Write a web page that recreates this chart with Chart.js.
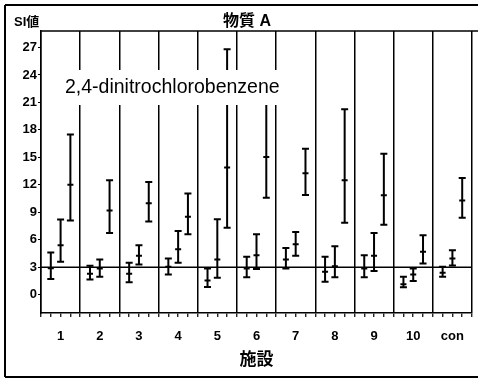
<!DOCTYPE html>
<html>
<head>
<meta charset="utf-8">
<script src="https://cdn.jsdelivr.net/npm/chart.js@4"></script>
<style>
  html, body { margin: 0; padding: 0; overflow: hidden; background: #fff; }
  canvas { display: block; }
</style>
</head>
<body>
<canvas id="myChart" width="484" height="379"></canvas>
<script>
// facilities, three measurements each (mean with low/high range)
const categories = ['1', '2', '3', '4', '5', '6', '7', '8', '9', '10', 'con'];

const mean1 = [2.9, 2.3, 2.3, 3.05, 1.55, 2.85, 3.85, 2.5, 2.85, 1.15, 2.4];
const low1  = [1.7, 1.65, 1.35, 2.2, 0.85, 1.9, 2.85, 1.4, 1.9, 0.8, 1.95];
const high1 = [4.6, 3.15, 3.5, 3.95, 2.85, 4.15, 5.1, 4.15, 4.3, 1.95, 3.05];

const mean2 = [5.4, 2.85, 4.25, 4.95, 3.85, 4.3, 5.5, 3.1, 4.25, 2.2, 3.95];
const low2  = [3.6, 1.95, 3.3, 3.5, 1.85, 2.8, 4.25, 1.9, 2.6, 1.5, 3.2];
const high2 = [8.2, 3.85, 5.4, 6.95, 8.25, 6.6, 6.85, 5.3, 6.75, 2.85, 4.85];

const mean3 = [12.0, 9.2, 10.0, 8.5, 13.9, 15.05, 13.25, 12.5, 10.85, 4.7, 10.3];
const low3  = [8.1, 6.75, 8.0, 6.6, 7.3, 10.6, 10.9, 7.85, 7.65, 3.4, 8.4];
const high3 = [17.5, 12.5, 12.3, 11.05, 26.8, 22, 15.95, 20.25, 15.4, 6.5, 12.75];

const yTicks = [0, 3, 6, 9, 12, 15, 18, 21, 24, 27];
const refValue = 3;

function makeSet(means, lows, highs, offset) {
  return {
    data: means.map((m, i) => ({ x: i * 4 + offset, y: m })),
    lows: lows,
    highs: highs,
    pointRadius: 0,
    showLine: false
  };
}

const errorBars = {
  id: 'errorBars',
  afterDatasetsDraw(chart) {
    const { ctx, scales: { x, y }, chartArea } = chart;
    ctx.save();
    ctx.strokeStyle = '#000';
    ctx.lineWidth = 1.5;
    // reference line
    const ry = y.getPixelForValue(refValue);
    ctx.beginPath();
    ctx.moveTo(chartArea.left, ry);
    ctx.lineTo(chartArea.right, ry);
    ctx.stroke();

    ctx.lineWidth = 2;
    chart.data.datasets.forEach(ds => {
      ds.data.forEach((p, i) => {
        const px = x.getPixelForValue(p.x);
        const yl = y.getPixelForValue(ds.lows[i]);
        const yh = y.getPixelForValue(ds.highs[i]);
        const ym = y.getPixelForValue(p.y);
        ctx.beginPath();
        ctx.moveTo(px, yl); ctx.lineTo(px, yh);
        ctx.moveTo(px - 3.5, yl); ctx.lineTo(px + 3.5, yl);
        ctx.moveTo(px - 3.5, yh); ctx.lineTo(px + 3.5, yh);
        ctx.moveTo(px - 3, ym); ctx.lineTo(px + 3, ym);
        ctx.stroke();
      });
    });

    // label box
    ctx.fillStyle = '#fff';
    ctx.fillRect(63, 70, 224, 35);
    ctx.fillStyle = '#000';
    ctx.font = '19.5px "Liberation Sans", Arial, sans-serif';
    ctx.textBaseline = 'middle';
    ctx.textAlign = 'left';
    ctx.fillText('2,4-dinitrochlorobenzene', 65, 88);
    ctx.restore();
  },
  afterDraw(chart) {
    const { ctx, chartArea } = chart;
    ctx.save();
    ctx.strokeStyle = '#000';
    ctx.lineWidth = 2;
    ctx.beginPath();
    ctx.moveTo(5, 5); ctx.lineTo(484, 5);
    ctx.moveTo(5, 5); ctx.lineTo(5, 377);
    ctx.moveTo(5, 377); ctx.lineTo(484, 377);
    ctx.stroke();
    ctx.lineWidth = 1.5;
    ctx.beginPath();
    ctx.moveTo(chartArea.left, chartArea.top); ctx.lineTo(484, chartArea.top);
    ctx.stroke();

    ctx.fillStyle = '#000';
    ctx.textBaseline = 'middle';
    ctx.font = 'bold 13px "Liberation Sans", "Noto Sans CJK JP", sans-serif';
    ctx.textAlign = 'left';
    ctx.fillText('SI値', 14, 22);
    ctx.font = 'bold 16px "Liberation Sans", "Noto Sans CJK JP", sans-serif';
    ctx.textAlign = 'center';
    ctx.fillText('物質 A', 247, 22);
    ctx.restore();
  }
};

new Chart(document.getElementById('myChart'), {
  type: 'scatter',
  data: {
    datasets: [
      makeSet(mean1, low1, high1, 1),
      makeSet(mean2, low2, high2, 2),
      makeSet(mean3, low3, high3, 3)
    ]
  },
  options: {
    responsive: false,
    animation: false,
    layout: { padding: { left: 0, right: 4, top: 31, bottom: 0 } },
    plugins: {
      legend: { display: false },
      tooltip: { enabled: false }
    },
    scales: {
      x: {
        type: 'linear',
        min: 0,
        max: 44,
        afterBuildTicks: s => { s.ticks = Array.from({ length: 45 }, (_, i) => ({ value: i })); },
        afterFit: s => { s.height = 66; },
        grid: {
          color: c => (c.tick && c.tick.value % 4 === 0) ? '#000' : 'rgba(0,0,0,0)',
          lineWidth: 1.5,
          tickColor: '#000',
          tickLength: 4,
          tickWidth: 1.2
        },
        border: { display: true, color: '#000', width: 1.5 },
        ticks: {
          autoSkip: false,
          maxRotation: 0,
          padding: 12,
          color: '#000',
          font: { family: '"Liberation Sans", Arial, sans-serif', size: 13, weight: 'bold' },
          callback: v => (v % 4 === 2) ? categories[(v - 2) / 4] : ''
        },
        title: {
          display: true,
          text: '施設',
          color: '#000',
          padding: { top: 0, bottom: 10 },
          font: { family: '"Noto Sans CJK JP", sans-serif', size: 17, weight: 'bold' }
        }
      },
      y: {
        min: -2,
        max: 28.8,
        afterBuildTicks: s => { s.ticks = yTicks.map(v => ({ value: v })); },
        afterFit: s => { s.width = 41; },
        grid: {
          drawOnChartArea: false,
          tickColor: '#000',
          tickLength: 3,
          tickWidth: 1.2
        },
        border: { display: true, color: '#000', width: 1.5 },
        ticks: {
          padding: 1,
          color: '#000',
          font: { family: '"Liberation Sans", Arial, sans-serif', size: 13, weight: 'bold' }
        }
      }
    }
  },
  plugins: [errorBars]
});
</script>
</body>
</html>
